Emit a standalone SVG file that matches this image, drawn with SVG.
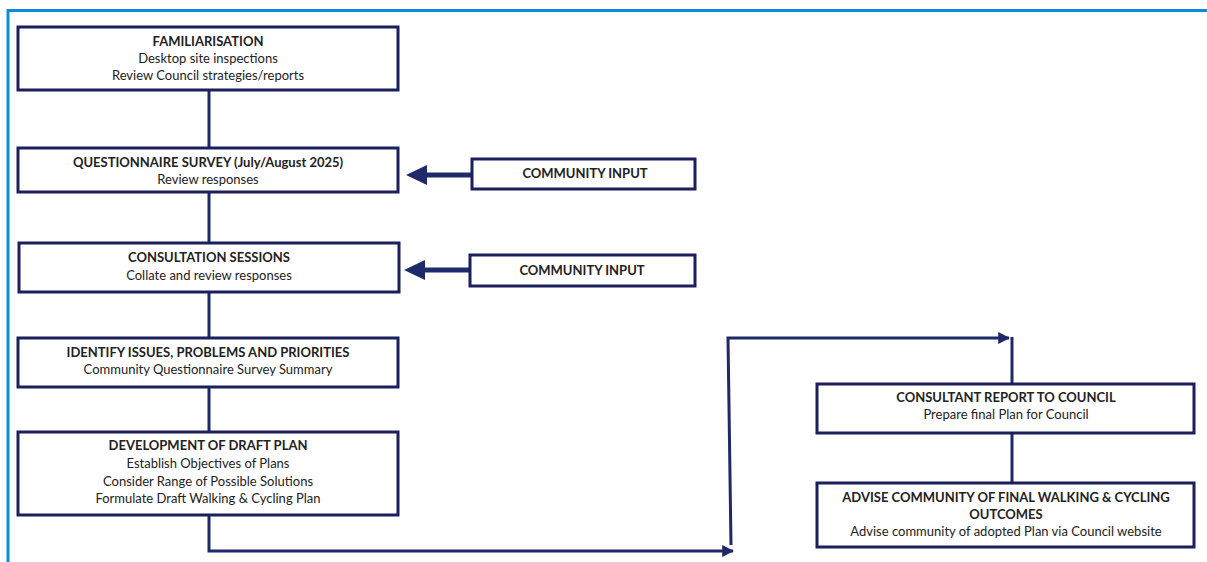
<svg xmlns="http://www.w3.org/2000/svg" width="1207" height="562" viewBox="0 0 1207 562">
<style>
.box{fill:#fff;stroke:#1b1f5c;stroke-width:3}
.t{font-family:Lato,"Liberation Sans",sans-serif;font-size:13px;fill:#222;text-anchor:middle}
.b{font-weight:bold}
.c{fill:none;stroke:#1f2868;stroke-width:3}
.ci{fill:none;stroke:#1f2a6a;stroke-width:5}
.ah{fill:#1f2a6a}
</style>
<defs>
<marker id="sm" viewBox="0 0 10 10" refX="9" refY="5" markerWidth="4" markerHeight="4" orient="auto" markerUnits="strokeWidth">
<path d="M0,0 L10,5 L0,10 z" fill="#1f2868"/>
</marker>
</defs>
<rect x="0" y="0" width="1207" height="562" fill="#fff"/>
<rect x="8" y="10.5" width="1220" height="600" fill="none" stroke="#0a8ce0" stroke-width="3"/>
<g id="connectors">
<line class="c" x1="209" y1="90" x2="209" y2="148"/>
<line class="c" x1="209" y1="192" x2="209" y2="243"/>
<line class="c" x1="209" y1="292" x2="209" y2="338"/>
<line class="c" x1="209" y1="387" x2="209" y2="432"/>
<polyline class="c" points="209,515 209,551 733,551" marker-end="url(#sm)"/>
<polyline class="c" points="731,545 728,338 1009,338" marker-end="url(#sm)"/>
<line class="c" x1="1012" y1="337" x2="1012" y2="384"/>
<line class="c" x1="1012" y1="433" x2="1012" y2="483"/>
<line class="ci" x1="472" y1="175" x2="422" y2="175"/>
<polygon class="ah" points="406,175 427,165 427,185"/>
<line class="ci" x1="470" y1="270" x2="420" y2="270"/>
<polygon class="ah" points="404,270 425,260 425,280"/>
</g>
<g id="familiarisation">
<rect class="box" x="18" y="27" width="380" height="63"/>
<text class="t b" x="208" y="46">FAMILIARISATION</text>
<text class="t" x="208" y="63">Desktop site inspections</text>
<text class="t" x="208" y="80">Review Council strategies/reports</text>
</g>
<g id="questionnaire">
<rect class="box" x="18" y="148" width="380" height="44"/>
<text class="t b" x="208" y="167">QUESTIONNAIRE SURVEY (July/August 2025)</text>
<text class="t" x="208" y="184">Review responses</text>
</g>
<g id="consultation">
<rect class="box" x="19" y="243" width="380" height="49"/>
<text class="t b" x="209" y="262">CONSULTATION SESSIONS</text>
<text class="t" x="209" y="280">Collate and review responses</text>
</g>
<g id="identify">
<rect class="box" x="18" y="338" width="380" height="49"/>
<text class="t b" x="208" y="357">IDENTIFY ISSUES, PROBLEMS AND PRIORITIES</text>
<text class="t" x="208" y="374">Community Questionnaire Survey Summary</text>
</g>
<g id="development">
<rect class="box" x="18" y="432" width="380" height="83"/>
<text class="t b" x="208" y="450">DEVELOPMENT OF DRAFT PLAN</text>
<text class="t" x="208" y="468">Establish Objectives of Plans</text>
<text class="t" x="208" y="486">Consider Range of Possible Solutions</text>
<text class="t" x="208" y="503">Formulate Draft Walking &amp; Cycling Plan</text>
</g>
<g id="community-input-1">
<rect class="box" x="472" y="159" width="223" height="30"/>
<text class="t b" x="585" y="178">COMMUNITY INPUT</text>
</g>
<g id="community-input-2">
<rect class="box" x="470" y="255" width="225" height="31"/>
<text class="t b" x="582" y="275">COMMUNITY INPUT</text>
</g>
<g id="consultant-report">
<rect class="box" x="817" y="384" width="377" height="49"/>
<text class="t b" x="1006" y="402">CONSULTANT REPORT TO COUNCIL</text>
<text class="t" x="1006" y="419">Prepare final Plan for Council</text>
</g>
<g id="advise-community">
<rect class="box" x="817" y="483" width="377" height="64"/>
<text class="t b" x="1006" y="502">ADVISE COMMUNITY OF FINAL WALKING &amp; CYCLING</text>
<text class="t b" x="1006" y="519">OUTCOMES</text>
<text class="t" x="1006" y="536">Advise community of adopted Plan via Council website</text>
</g>
</svg>
